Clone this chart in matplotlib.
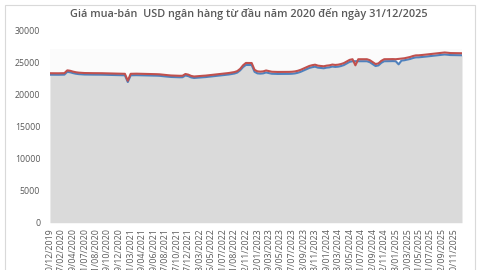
import matplotlib
matplotlib.use("Agg")
import matplotlib.pyplot as plt
from matplotlib.patches import Rectangle
import numpy as np

plt.rcParams['font.family'] = ['Open Sans', 'DejaVu Sans']

title = "Giá mua-bán  USD ngân hàng từ đầu năm 2020 đến ngày 31/12/2025"

tick_labels = [
    "30/12/2019", "27/02/2020", "29/04/2020", "01/07/2020", "31/08/2020", "29/10/2020",
    "29/12/2020", "01/03/2021", "29/04/2021", "29/06/2021", "27/08/2021", "27/10/2021",
    "27/12/2021", "03/03/2022", "05/05/2022", "01/07/2022", "31/08/2022", "22/11/2022",
    "12/01/2023", "09/03/2023", "09/05/2023", "07/07/2023", "08/09/2023", "03/11/2023",
    "09/01/2024", "08/03/2024", "08/05/2024", "01/07/2024", "02/09/2024", "12/11/2024",
    "03/01/2025", "10/03/2025", "01/05/2025", "01/07/2025", "02/09/2025", "10/11/2025",
]

sell = [
    23270, 23265, 23270, 23260, 23270, 23280,
    23720, 23650, 23520, 23420, 23360, 23330,
    23300, 23290, 23290, 23280, 23280, 23270, 23270, 23260, 23250, 23250, 23240, 23230, 23220, 23200, 23180,
    22100,
    23180, 23190, 23200, 23190, 23180, 23170, 23160, 23150, 23140, 23120,
    23100, 23050, 23000, 22960, 22920, 22900, 22880, 22870, 22880,
    23150, 23050, 22850, 22760,
    22800, 22830, 22870, 22900, 22950, 23000,
    23050, 23100, 23150, 23200, 23250, 23300,
    23380, 23450, 23600, 23950,
    24500, 24870, 24870, 24860,
    23800, 23560, 23520, 23560, 23700,
    23600, 23500, 23480, 23470, 23470, 23460, 23470, 23480, 23500, 23550,
    23650, 23800, 24000, 24200, 24400, 24520, 24600,
    24450, 24400, 24350, 24450, 24500, 24620, 24560, 24600, 24700, 24850, 25100, 25350, 25450,
    24500,
    25450, 25450, 25460, 25450, 25300, 25000, 24700, 24800, 25200, 25450,
    25450, 25460, 25470, 25450, 25500, 25550,
    25600, 25700, 25800, 25950, 26050, 26060, 26100,
    26150, 26200, 26250, 26300, 26350, 26400, 26450, 26500,
    26450, 26410, 26400, 26380, 26380, 26380,
]

buy = [
    23040, 23035, 23040, 23030, 23040, 23050,
    23490, 23420, 23290, 23190, 23130, 23100,
    23070, 23060, 23060, 23050, 23050, 23040, 23040, 23030, 23020, 23020, 23010, 23000, 22990, 22970, 22950,
    21900,
    22950, 22960, 22970, 22960, 22950, 22940, 22930, 22920, 22910, 22890,
    22870, 22820, 22770, 22730, 22690, 22670, 22650, 22640, 22650,
    22920, 22820, 22620, 22530,
    22570, 22600, 22640, 22670, 22720, 22770,
    22820, 22870, 22920, 22970, 23020, 23070,
    23150, 23220, 23370, 23720,
    24220, 24560, 24560, 24550,
    23490, 23250, 23210, 23250, 23390,
    23290, 23190, 23170, 23160, 23160, 23150, 23160, 23170, 23190, 23240,
    23340, 23490, 23690, 23890, 24090, 24210, 24290,
    24140, 24090, 24040, 24140, 24190, 24310, 24250, 24290, 24390, 24540, 24790, 25040, 25140,
    25140,
    25140, 25140, 25150, 25140, 24990, 24690, 24390, 24490, 24890, 25140,
    25140, 25150, 25160, 25140, 24650, 25240,
    25290, 25390, 25490, 25640, 25740, 25750, 25790,
    25840, 25890, 25940, 25990, 26040, 26090, 26140, 26190,
    26140, 26100, 26090, 26070, 26070, 26070,
]

y_ticks = [0, 5000, 10000, 15000, 20000, 25000, 30000]

x = np.arange(len(sell))
label_step = 4

fig = plt.figure(figsize=(4.8, 2.7), dpi=100)
fig.patch.set_facecolor('white')
fig.add_artist(Rectangle((5 / 480, -0.05), 470 / 480, 1 - 5 / 270 + 0.05,
                         transform=fig.transFigure, fill=False,
                         edgecolor='#D9D9D9', linewidth=0.8))

ax = fig.add_axes([50 / 480, 1 - 222.7 / 270, 412 / 480, (222.7 - 30) / 270])
ax.set_facecolor('white')
ax.axhspan(0, 27000, color='#FBFBFB', zorder=0, lw=0)
ax.fill_between(x, 0, buy, color='#DADADA', lw=0, zorder=1)
ax.plot(x, buy, color='#4F81BD', lw=1.5, zorder=2)
ax.plot(x, sell, color='#C0504D', lw=1.5, zorder=3)

ax.set_xlim(0, len(sell) - 1)
ax.set_ylim(0, 30000)
ax.set_yticks(y_ticks)
ax.set_yticklabels([str(v) for v in y_ticks])
ax.set_xticks(x[::label_step][:len(tick_labels)])
ax.set_xticklabels(tick_labels, rotation=90)
ax.tick_params(axis='both', length=0, labelsize=6.3, labelcolor='#595959', pad=4)
ax.tick_params(axis='y', pad=7)
for s in ax.spines.values():
    s.set_visible(False)

fig.text(249 / 480, 1 - 14 / 270, title, ha='center', va='center',
         fontsize=7.8, fontweight='semibold', color='#595959')

fig.savefig('out.png', dpi=100)
